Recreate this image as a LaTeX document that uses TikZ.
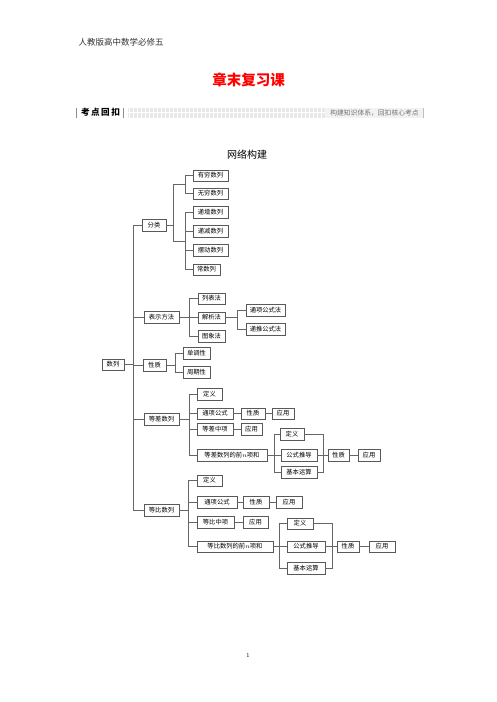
\documentclass[tikz,border=0pt]{standalone}
\usepackage{fontspec}
\newfontfamily\cjk{Noto Sans CJK SC}
\tikzset{
  box/.style={draw=black!65, line width=0.45pt, minimum height=11.5pt, inner sep=0pt, fill=white,
    font=\cjk\fontsize{6.3}{7}\selectfont},
  ln/.style={draw=black!60, line width=0.5pt},
}
\begin{document}
\begin{tikzpicture}[x=1pt,y=-1pt]
\useasboundingbox (0,0) rectangle (496,702);
% header
\node[anchor=west, font=\cjk\fontsize{8.5}{9}\selectfont, text=black!80] (hdr) at (75,42) {人教版高中数学必修五};
\node[font=\cjk\bfseries\fontsize{14.5}{15}\selectfont, text=red] (title) at (248.5,80) {章末复习课};
% section bar
\draw[black!45, line width=0.8pt] (76.5,108) -- (76.5,117.5);
\node[font=\cjk\bfseries\fontsize{8.6}{9}\selectfont] (kd) at (100.5,112.5) {考\,点\,回\,扣};
\draw[black!45, line width=0.8pt] (123.5,108) -- (123.5,117.5);
\fill[black!9] (128,108) rectangle (325,117.5);
\foreach \i in {0,...,48} {\draw[white, line width=0.7pt] (129+4*\i,108) -- (129+4*\i,117.5);}
\draw[white, line width=0.7pt] (128,112.7) -- (325,112.7);
\fill[black!5] (325,108) rectangle (423,117.5);
\node[font=\cjk\fontsize{6.8}{7}\selectfont, text=black!55] (kdr) at (374.5,112.8) {构建知识体系，回扣核心考点};
\draw[black!25, line width=0.8pt] (423.5,108) -- (423.5,117.5);
\node[font=\cjk\fontsize{10}{11}\selectfont] (wl) at (247,155) {网络构建};
\node[font=\fontsize{6}{7}\selectfont] (pg) at (248,655) {1};
% coordinates for bracket x positions
\coordinate (t0) at (133,0);
\coordinate (k1) at (173,0);
\coordinate (s1) at (185,184.5);
\coordinate (s2) at (185,240.75);
\coordinate (b2) at (189,0);
\coordinate (b3) at (237,0);
\coordinate (b4) at (175,0);
\coordinate (b5) at (189,0);
\coordinate (b6) at (274,0);
\coordinate (r6) at (323,0);
\coordinate (b7) at (188,0);
\coordinate (b8) at (279,0);
\coordinate (r8) at (332,0);
% root
\node[box, minimum width=22pt] (sl) at (113,364.5) {数列};
% level 1
\node[box, minimum width=24pt] (fl) at (154,225) {分类};
\node[box, minimum width=35pt] (bs) at (161.5,317) {表示方法};
\node[box, minimum width=23pt] (xz) at (154.5,365) {性质};
\node[box, minimum width=35pt] (dc) at (161.5,419) {等差数列};
\node[box, minimum width=35pt] (db) at (161.5,510) {等比数列};
% 分类 children
\node[box, minimum width=35pt] (yq) at (210.5,175.5) {有穷数列};
\node[box, minimum width=35pt] (wq) at (210.5,193.5) {无穷数列};
\node[box, minimum width=35pt] (dz) at (210.5,212) {递增数列};
\node[box, minimum width=35pt] (dj) at (210.5,231) {递减数列};
\node[box, minimum width=35pt] (bd) at (210.5,250) {摆动数列};
\node[box, minimum width=27pt] (cs) at (206.5,269.5) {常数列};
% 表示方法 children
\node[box, minimum width=27pt] (lb) at (211.5,298.5) {列表法};
\node[box, minimum width=27pt] (jx) at (211.5,317.5) {解析法};
\node[box, minimum width=27pt] (tx) at (211.5,336) {图象法};
\node[box, minimum width=39pt] (tg) at (265.5,310) {通项公式法};
\node[box, minimum width=39pt] (dt) at (265.5,329) {递推公式法};
% 性质 children
\node[box, minimum width=27pt] (dd) at (196.5,353) {单调性};
\node[box, minimum width=27pt] (zq) at (196.5,372) {周期性};
% 等差数列 children
\node[box, minimum width=25pt] (dy1) at (209.5,394) {定义};
\node[box, minimum width=36pt] (tx1) at (215,413.5) {通项公式};
\node[box, minimum width=24pt] (xz1) at (253,413.5) {性质};
\node[box, minimum width=22pt] (yy1) at (283,413.5) {应用};
\node[box, minimum width=36pt] (zx1) at (215,429) {等差中项};
\node[box, minimum width=21pt] (yy2) at (251.5,429) {应用};
\node[box, minimum width=70pt] (sum1) at (232,455) {等差数列的前$n$项和};
\node[box, minimum width=24pt] (dy2) at (292,434) {定义};
\node[box, minimum width=36pt] (gs1) at (299,455) {公式推导};
\node[box, minimum width=36pt] (ys1) at (299,472) {基本运算};
\node[box, minimum width=21pt] (xz2) at (338.5,455) {性质};
\node[box, minimum width=22pt] (yy3) at (369,455) {应用};
% 等比数列 children
\node[box, minimum width=25pt] (dy3) at (209.5,480.5) {定义};
\node[box, minimum width=40pt] (tx2) at (217,502) {通项公式};
\node[box, minimum width=26pt] (xz3) at (256,502) {性质};
\node[box, minimum width=26pt] (yy4) at (289,502) {应用};
\node[box, minimum width=37pt] (zx2) at (215.5,522) {等比中项};
\node[box, minimum width=25pt] (yy5) at (255.5,522) {应用};
\node[box, minimum width=76pt] (sum2) at (235,546.5) {等比数列的前$n$项和};
\node[box, minimum width=26pt] (dy4) at (300,523.5) {定义};
\node[box, minimum width=38pt] (gs2) at (306,546.5) {公式推导};
\node[box, minimum width=38pt] (ys2) at (306,568) {基本运算};
\node[box, minimum width=22pt] (xz4) at (348,546.5) {性质};
\node[box, minimum width=26pt] (yy6) at (382,546.5) {应用};
% trunk
\begin{scope}[on background layer/.style={}]
\draw[ln] (sl.east) -- (sl.east -| t0);
\foreach \c in {fl,bs,xz,dc,db} {\draw[ln] (\c.west) -| (sl.east -| t0);}
% 分类
\draw[ln] (fl.east) -- (fl.east -| k1);
\draw[ln] (yq.west) -| (s1);
\draw[ln] (wq.west) -| (s1);
\draw[ln] (s1) -| (fl.east -| k1);
\foreach \c in {dz,dj,bd,cs} {\draw[ln] (\c.west) -| (s2);}
\draw[ln] (s2) -| (fl.east -| k1);
% 表示方法
\draw[ln] (bs.east) -- (bs.east -| b2);
\foreach \c in {lb,jx,tx} {\draw[ln] (\c.west) -| (bs.east -| b2);}
\draw[ln] (jx.east) -- (jx.east -| b3);
\foreach \c in {tg,dt} {\draw[ln] (\c.west) -| (jx.east -| b3);}
% 性质
\draw[ln] (xz.east) -- (xz.east -| b4);
\foreach \c in {dd,zq} {\draw[ln] (\c.west) -| (xz.east -| b4);}
% 等差
\draw[ln] (dc.east) -- (dc.east -| b5);
\foreach \c in {dy1,tx1,zx1,sum1} {\draw[ln] (\c.west) -| (dc.east -| b5);}
\draw[ln] (tx1) -- (xz1);
\draw[ln] (xz1) -- (yy1);
\draw[ln] (zx1) -- (yy2);
\draw[ln] (sum1.east) -- (sum1.east -| b6);
\foreach \c in {dy2,gs1,ys1} {\draw[ln] (\c.west) -| (sum1.east -| b6);}
\draw[ln] (gs1.east) -- (xz2.west);
\foreach \c in {dy2,ys1} {\draw[ln] (\c.east) -| (xz2.west -| r6);}
\draw[ln] (xz2) -- (yy3);
% 等比
\draw[ln] (db.east) -- (db.east -| b7);
\foreach \c in {dy3,tx2,zx2,sum2} {\draw[ln] (\c.west) -| (db.east -| b7);}
\draw[ln] (tx2) -- (xz3);
\draw[ln] (xz3) -- (yy4);
\draw[ln] (zx2) -- (yy5);
\draw[ln] (sum2.east) -- (sum2.east -| b8);
\foreach \c in {dy4,gs2,ys2} {\draw[ln] (\c.west) -| (sum2.east -| b8);}
\draw[ln] (gs2.east) -- (xz4.west);
\foreach \c in {dy4,ys2} {\draw[ln] (\c.east) -| (xz4.west -| r8);}
\draw[ln] (xz4) -- (yy6);
\end{scope}
\end{tikzpicture}
\end{document}
